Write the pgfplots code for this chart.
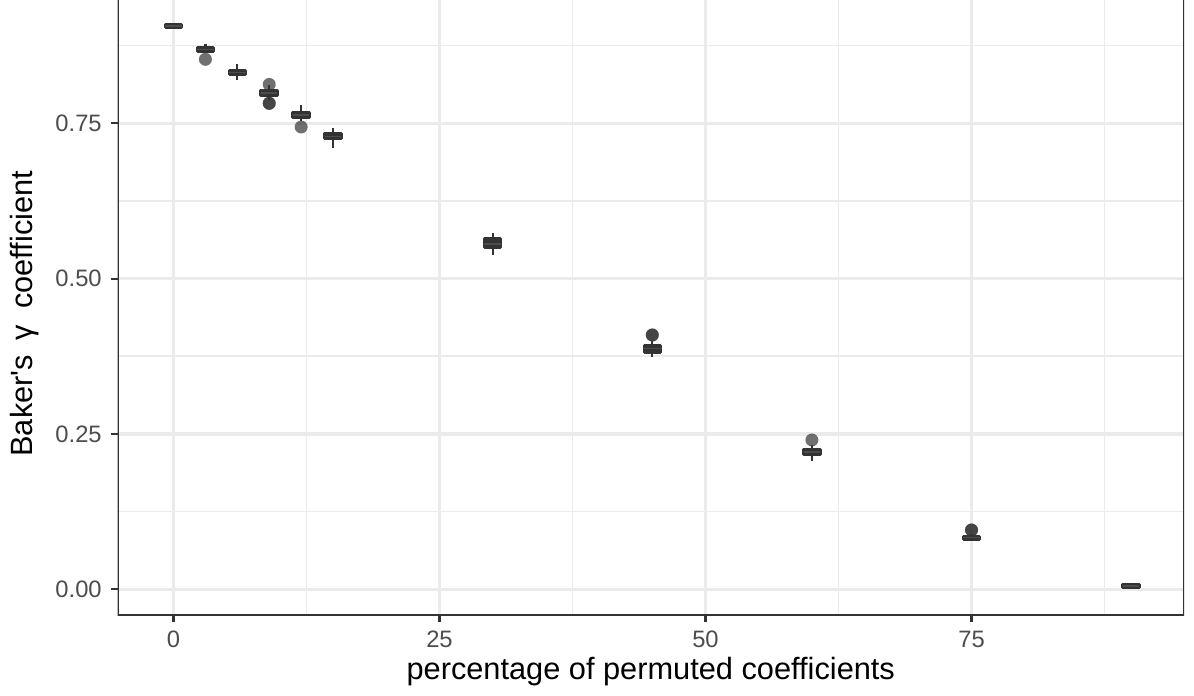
\documentclass[border=0pt]{standalone}
\usepackage{fontspec}
\setmainfont{Liberation Sans}
\newfontfamily\plainsans{Liberation Sans}
\usepackage{pgfplots}
\pgfplotsset{compat=1.18}
\usepgfplotslibrary{statistics}
\definecolor{c20}{HTML}{333333}
\definecolor{c30}{HTML}{4D4D4D}
\definecolor{gridc}{HTML}{EBEBEB}

\pgfplotsset{
  bx/.style={
    boxplot/draw direction=y,
    boxplot/box extend=1.55,
    boxplot/whisker extend=0,
    draw=c20, fill=c20, line width=1.2pt, line join=round,
    boxplot/every whisker/.style={line width=0.9pt},
    mark=*, mark size=2.6pt,
    mark options={fill=c20, draw opacity=0, fill opacity=0.7},
    boxplot/every median/.style={draw=c30, line width=0.5pt},
  }
}

\begin{document}
\begin{tikzpicture}
\begin{axis}[
  scale only axis, width=426.6pt, height=246pt,
  xmin=-5.26, xmax=94.97, ymin=-0.0414, ymax=0.9485,
  axis line style={draw=none},
  xtick={0,25,50,75}, ytick={0,0.25,0.5,0.75},
  minor xtick={12.5,37.5,62.5,87.5},
  minor ytick={0.125,0.375,0.625,0.875},
  xtick pos=bottom, ytick pos=left, tick align=outside,
  major tick length=2.8pt, minor tick length=0pt,
  tick style={c20, line width=0.9pt},
  grid=both,
  major grid style={gridc, line width=1.3pt},
  minor grid style={gridc, line width=0.65pt},
  /pgf/number format/assume math mode=true,
  ticklabel style={font=\fontsize{9.5}{11}\selectfont, text=c30},
  yticklabel style={/pgf/number format/fixed, /pgf/number format/fixed zerofill, /pgf/number format/precision=2},
  xlabel={percentage of permuted coefficients},
  ylabel={\plainsans Baker's\hspace{6pt}γ\hspace{3pt} coefficient},
  every axis x label/.style={at={(axis description cs:0.5,0)}, yshift=-22.8pt, anchor=center, font=\fontsize{12.3}{14}\selectfont},
  every axis y label/.style={at={(axis description cs:0,0.49)}, xshift=-37pt, rotate=90, anchor=center, font=\fontsize{12.3}{14}\selectfont},
]
% permuted 0 %
\addplot[bx, boxplot prepared={draw position=0, lower whisker=0.904, lower quartile=0.904, median=0.9066, upper quartile=0.909, upper whisker=0.909}] coordinates {};
% permuted 3 %
\addplot[bx, boxplot prepared={draw position=3, lower whisker=0.8650, lower quartile=0.8656, median=0.869, upper quartile=0.8727, upper whisker=0.878}]
  table[row sep=\\, y index=0] {y\\ 0.853\\};
% permuted 6 %
\addplot[bx, boxplot prepared={draw position=6, lower whisker=0.8197, lower quartile=0.8279, median=0.8316, upper quartile=0.8352, upper whisker=0.8455}] coordinates {};
% permuted 9 %
\addplot[bx, boxplot prepared={draw position=9, lower whisker=0.7876, lower quartile=0.7946, median=0.799, upper quartile=0.8030, upper whisker=0.8109}]
  table[row sep=\\, y index=0] {y\\ 0.8126\\ 0.7822\\ 0.7822\\};
% permuted 12 %
\addplot[bx, boxplot prepared={draw position=12, lower whisker=0.7537, lower quartile=0.7592, median=0.7636, upper quartile=0.7681, upper whisker=0.7795}]
  table[row sep=\\, y index=0] {y\\ 0.7441\\};
% permuted 15 %
\addplot[bx, boxplot prepared={draw position=15, lower whisker=0.7108, lower quartile=0.7249, median=0.729, upper quartile=0.7338, upper whisker=0.742}] coordinates {};
% permuted 30 %
\addplot[bx, boxplot prepared={draw position=30, lower whisker=0.538, lower quartile=0.5500, median=0.5558, upper quartile=0.5648, upper whisker=0.573}] coordinates {};
% permuted 45 %
\addplot[bx, boxplot prepared={draw position=45, lower whisker=0.3744, lower quartile=0.3816, median=0.387, upper quartile=0.3926, upper whisker=0.399}]
  table[row sep=\\, y index=0] {y\\ 0.4093\\ 0.4093\\};
% permuted 60 %
\addplot[bx, boxplot prepared={draw position=60, lower whisker=0.207, lower quartile=0.2168, median=0.221, upper quartile=0.2252, upper whisker=0.232}]
  table[row sep=\\, y index=0] {y\\ 0.2403\\};
% permuted 75 %
\addplot[bx, boxplot prepared={draw position=75, lower whisker=0.0785, lower quartile=0.0800, median=0.083, upper quartile=0.0856, upper whisker=0.089}]
  table[row sep=\\, y index=0] {y\\ 0.0954\\ 0.0954\\};
% permuted 90 %
\addplot[bx, boxplot prepared={draw position=90, lower whisker=0.0033, lower quartile=0.0033, median=0.0053, upper quartile=0.0073, upper whisker=0.0073}] coordinates {};

\draw[c20, line width=0.9pt] (rel axis cs:0,1.01) -- (rel axis cs:0,0) -- (rel axis cs:1,0) -- (rel axis cs:1,1.01);
\coordinate (sw) at (rel axis cs:0,0);
\coordinate (ne) at (rel axis cs:1,1);
\end{axis}
\pgfresetboundingbox
\path[use as bounding box] ([xshift=-47pt,yshift=-32pt]sw) rectangle ([xshift=4pt]ne);
\end{tikzpicture}
\end{document}
